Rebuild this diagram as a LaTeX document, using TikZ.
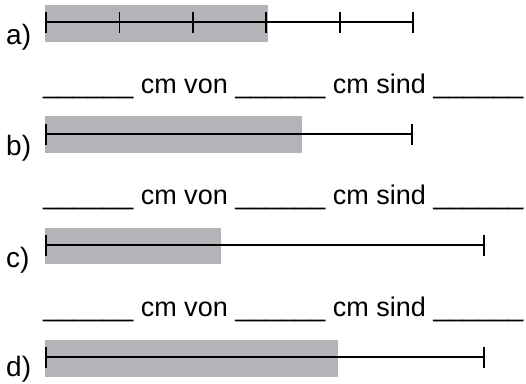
\documentclass[tikz,border=0pt]{standalone}
\usepackage{fontspec}
\setmainfont{Liberation Sans}
\definecolor{bargray}{RGB}{178,180,183}
\begin{document}
\begin{tikzpicture}[x=1pt,y=-1pt,
  bar/.style={fill=bargray},
  scaleline/.style={line width=1.8pt,black},
  tickmark/.style={line width=1.8pt,black},
  lbl/.style={anchor=base west,inner sep=0pt,font=\fontsize{28}{30}\selectfont},
  blank/.style={anchor=base west,inner sep=0pt,font=\fontsize{27}{30}\selectfont}]
\useasboundingbox (0,0) rectangle (526,383);
\newcommand{\gap}{\_\_\_\_\_\_}
% row a
\fill[bar] (45,5) rectangle (268,42);
\coordinate (a0) at (46,22); \coordinate (a5) at (413,22);
\draw[scaleline] (a0) -- (a5);
\foreach \x [count=\i] in {46,119.4,192.8,266.2,339.6,413}
  \draw[tickmark] (\x,11.5) -- (\x,32.5);
\node[lbl] (la) at (6,44) {a)};
\node[blank] (ta) at (43,93) {\gap{} cm von \gap{} cm sind \gap};
% row b
\fill[bar] (45,116) rectangle (302,153);
\coordinate (b0) at (46,134); \coordinate (b1) at (412,134);
\draw[scaleline] (b0) -- (b1);
\draw[tickmark] ([yshift=-10.5pt]b0) -- ([yshift=10.5pt]b0);
\draw[tickmark] ([yshift=-10.5pt]b1) -- ([yshift=10.5pt]b1);
\node[lbl] (lb) at (6,155) {b)};
\node[blank] (tb) at (43,204) {\gap{} cm von \gap{} cm sind \gap};
% row c
\fill[bar] (45,228) rectangle (221,264);
\coordinate (c0) at (46,245); \coordinate (c1) at (484,245);
\draw[scaleline] (c0) -- (c1);
\draw[tickmark] ([yshift=-10.5pt]c0) -- ([yshift=10.5pt]c0);
\draw[tickmark] ([yshift=-10.5pt]c1) -- ([yshift=10.5pt]c1);
\node[lbl] (lc) at (6,267) {c)};
\node[blank] (tc) at (43,316) {\gap{} cm von \gap{} cm sind \gap};
% row d
\fill[bar] (45,340) rectangle (338,377);
\coordinate (d0) at (46,357); \coordinate (d1) at (484,357);
\draw[scaleline] (d0) -- (d1);
\draw[tickmark] ([yshift=-10.5pt]d0) -- ([yshift=10.5pt]d0);
\draw[tickmark] ([yshift=-10.5pt]d1) -- ([yshift=10.5pt]d1);
\node[lbl] (ld) at (6,376) {d)};
\end{tikzpicture}
\end{document}
